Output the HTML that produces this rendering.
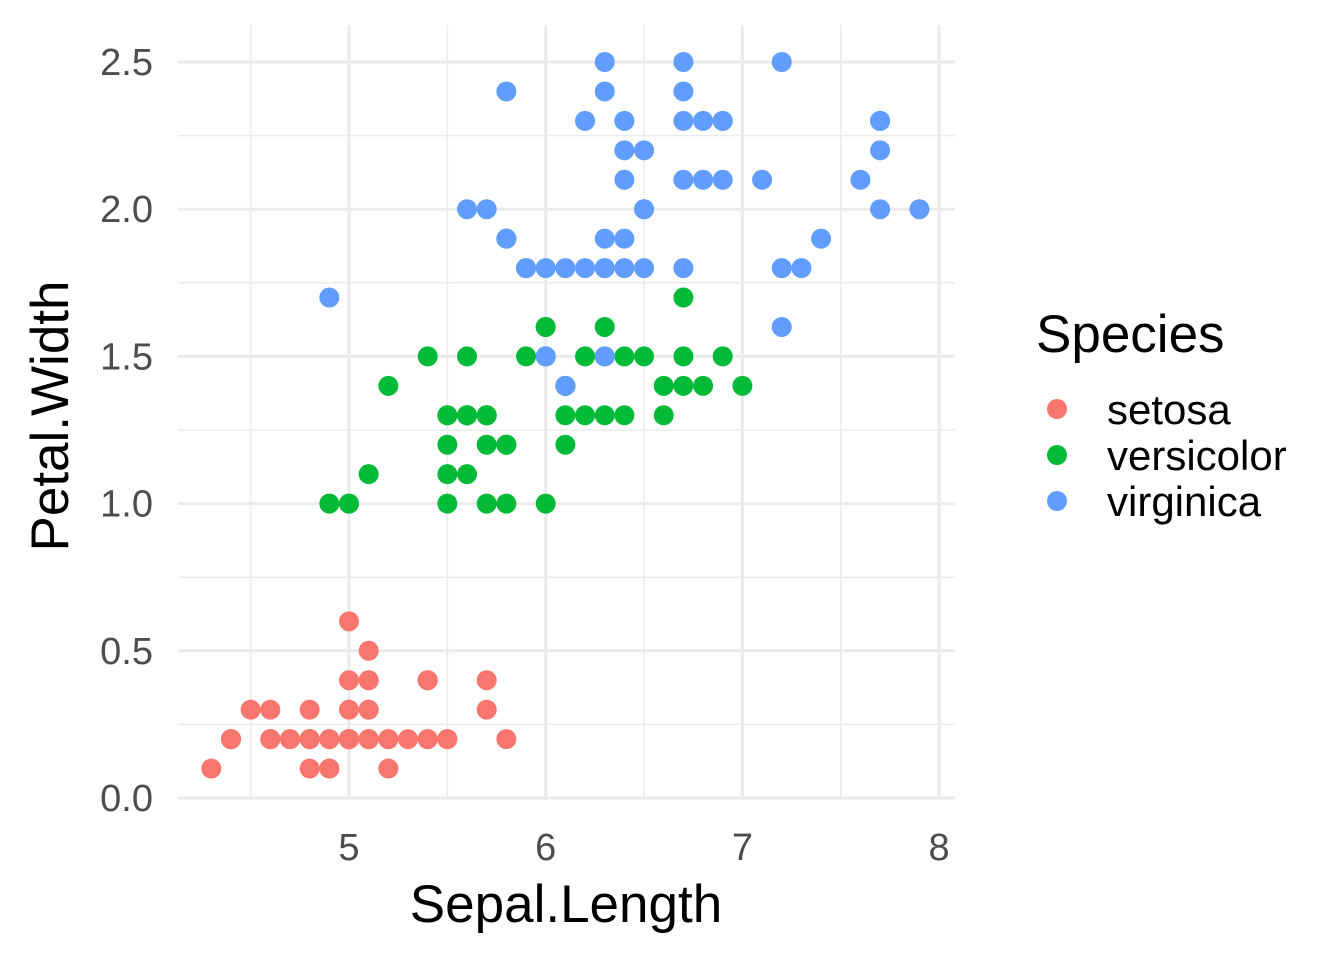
<!DOCTYPE html>
<html><head><meta charset="utf-8"><style>
body{margin:0;background:#fff}
svg{display:block;font-family:"Liberation Sans",Arial,sans-serif}
</style></head><body>
<svg id="chart" width="1344" height="960" viewBox="0 0 1344 960">
<g id="gridLayer"></g>
<g id="pointLayer"></g>
<g id="axisLayer"></g>
<text x="566" y="922" font-size="53" text-anchor="middle" fill="#000">Sepal.Length</text>
<text transform="translate(68,416) rotate(-90)" font-size="53" text-anchor="middle" fill="#000">Petal.Width</text>
<g>
<text x="1036" y="352" font-size="53" fill="#000">Species</text>
<circle cx="1057" cy="409" r="10" fill="#F8766D"/>
<text x="1107" y="424" font-size="42" fill="#000">setosa</text>
<circle cx="1057" cy="455" r="10" fill="#00BA38"/>
<text x="1107" y="470" font-size="42" fill="#000">versicolor</text>
<circle cx="1057" cy="501" r="10" fill="#619CFF"/>
<text x="1107" y="516" font-size="42" fill="#000">virginica</text>
</g>
</svg>
<script>
const species = ["setosa","versicolor","virginica"];
const colors = ["#F8766D","#00BA38","#619CFF"];
const sepalSetosa = [5.1,4.9,4.7,4.6,5.0,5.4,4.6,5.0,4.4,4.9,5.4,4.8,4.8,4.3,5.8,5.7,5.4,5.1,5.7,5.1,5.4,5.1,4.6,5.1,4.8,5.0,5.0,5.2,5.2,4.7,4.8,5.4,5.2,5.5,4.9,5.0,5.5,4.9,4.4,5.1,5.0,4.5,4.4,5.0,5.1,4.8,5.1,4.6,5.3,5.0];
const petalSetosa = [0.2,0.2,0.2,0.2,0.2,0.4,0.3,0.2,0.2,0.1,0.2,0.2,0.1,0.1,0.2,0.4,0.4,0.3,0.3,0.3,0.2,0.4,0.2,0.5,0.2,0.2,0.4,0.2,0.2,0.2,0.2,0.4,0.1,0.2,0.2,0.2,0.2,0.1,0.2,0.2,0.3,0.3,0.2,0.6,0.4,0.3,0.2,0.2,0.2,0.2];
const sepalVersicolor = [7.0,6.4,6.9,5.5,6.5,5.7,6.3,4.9,6.6,5.2,5.0,5.9,6.0,6.1,5.6,6.7,5.6,5.8,6.2,5.6,5.9,6.1,6.3,6.1,6.4,6.6,6.8,6.7,6.0,5.7,5.5,5.5,5.8,6.0,5.4,6.0,6.7,6.3,5.6,5.5,5.5,6.1,5.8,5.0,5.6,5.7,5.7,6.2,5.1,5.7];
const petalVersicolor = [1.4,1.5,1.5,1.3,1.5,1.3,1.6,1.0,1.3,1.4,1.0,1.5,1.0,1.4,1.3,1.4,1.5,1.0,1.5,1.1,1.8,1.3,1.5,1.2,1.3,1.4,1.4,1.7,1.5,1.0,1.1,1.0,1.2,1.6,1.5,1.6,1.5,1.3,1.3,1.3,1.2,1.4,1.2,1.0,1.3,1.2,1.3,1.3,1.1,1.3];
const sepalVirginica = [6.3,5.8,7.1,6.3,6.5,7.6,4.9,7.3,6.7,7.2,6.5,6.4,6.8,5.7,5.8,6.4,6.5,7.7,7.7,6.0,6.9,5.6,7.7,6.3,6.7,7.2,6.2,6.1,6.4,7.2,7.4,7.9,6.4,6.3,6.1,7.7,6.3,6.4,6.0,6.9,6.7,6.9,5.8,6.8,6.7,6.7,6.3,6.5,6.2,5.9];
const petalVirginica = [2.5,1.9,2.1,1.8,2.2,2.1,1.7,1.8,1.8,2.5,2.0,1.9,2.1,2.0,2.4,2.3,1.8,2.2,2.3,1.5,2.3,2.0,2.0,1.8,2.1,1.8,1.8,1.8,2.1,1.6,1.9,2.0,2.2,1.5,1.4,2.3,2.4,1.8,1.8,2.1,2.4,2.3,1.9,2.3,2.5,2.3,1.9,2.0,2.3,1.8];
const xTicks = [5,6,7,8];
const xTickLabels = ["5","6","7","8"];
const yTicks = [0,0.5,1,1.5,2,2.5];
const yTickLabels = ["0.0","0.5","1.0","1.5","2.0","2.5"];

const NS="http://www.w3.org/2000/svg";
const xScale = v => 349 + (v-5)*196.7;
const yScale = v => 798 - v*294.4;
const pLeft=178, pRight=955, pTop=25, pBottom=800;
function mk(tag, attrs, parent){const e=document.createElementNS(NS,tag);for(const k in attrs)e.setAttribute(k,attrs[k]);parent.appendChild(e);return e;}
const gridG=document.getElementById('gridLayer'), ptsG=document.getElementById('pointLayer'), axesG=document.getElementById('axisLayer');
for(let i=0;i<xTicks.length;i++){
  const l=mk('line',{x1:xScale(xTicks[i]-0.5),x2:xScale(xTicks[i]-0.5),y1:pTop,y2:pBottom,stroke:'#ebebeb','stroke-width':1.5},gridG);
  
  
}
for(let i=0;i<yTicks.length-1;i++){
  const l=mk('line',{x1:pLeft,x2:pRight,y1:yScale(yTicks[i]+0.25),y2:yScale(yTicks[i]+0.25),stroke:'#ebebeb','stroke-width':1.5},gridG);
  
  
}
xTicks.forEach((t,i)=>{
  const l=mk('line',{x1:xScale(t),x2:xScale(t),y1:pTop,y2:pBottom,stroke:'#ebebeb','stroke-width':3},gridG);
  
  
  const tx=mk('text',{x:xScale(t),y:860,'font-size':38,'text-anchor':'middle',fill:'#4d4d4d'},axesG);
  tx.textContent=xTickLabels[i];
  
  
});
yTicks.forEach((t,i)=>{
  const l=mk('line',{x1:pLeft,x2:pRight,y1:yScale(t),y2:yScale(t),stroke:'#ebebeb','stroke-width':3},gridG);
  
  
  const tx=mk('text',{x:153,y:yScale(t)+13,'font-size':38,'text-anchor':'end',fill:'#4d4d4d'},axesG);
  tx.textContent=yTickLabels[i];
  
  
});
const xsAll=[sepalSetosa,sepalVersicolor,sepalVirginica], ysAll=[petalSetosa,petalVersicolor,petalVirginica];
for(let s=0;s<3;s++){
  for(let i=0;i<xsAll[s].length;i++){
    const c=mk('circle',{cx:xScale(xsAll[s][i]),cy:yScale(ysAll[s][i]),r:10,fill:colors[s]},ptsG);
    
    
  }
}
</script>
</body></html>
